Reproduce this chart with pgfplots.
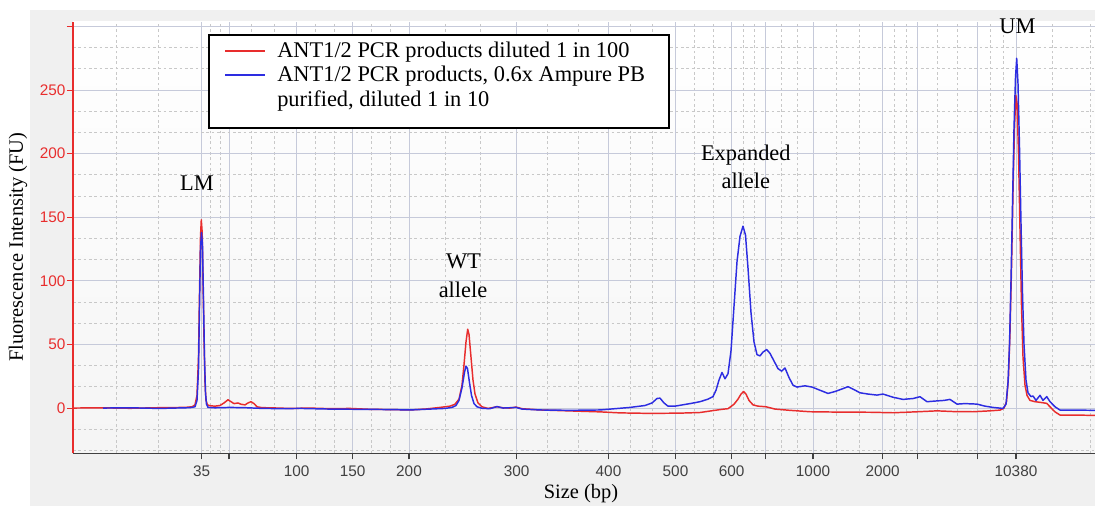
\documentclass[border=0pt]{standalone}
\usepackage{fontspec}
\setmainfont{Liberation Serif}
\newfontfamily\tickfont{Liberation Sans}
\usepackage{pgfplots}
\usepackage{pgfplotstable}
\pgfplotsset{compat=1.18}
\definecolor{traceRed}{RGB}{232,45,45}
\definecolor{traceBlue}{RGB}{45,45,225}
\definecolor{gridMajor}{RGB}{198,202,218}
\definecolor{gridMinor}{RGB}{200,200,200}
\definecolor{panel}{RGB}{240,240,240}
\definecolor{tickInk}{RGB}{64,64,64}

% x = position along the run (the bp scale is not linear), y = FU
\pgfplotstableread{
x y
73 0
100 0.2
130 -0.2
160 0.3
185 0.5
192 1
195 2.5
197 10
198.5 40
199.5 90
200.5 135
201.3 148
202.2 138
203 100
204 55
205 20
206 6
207.5 2.5
210 1.8
215 1.5
220 2
224 4
228 6.5
231 5
234 3.5
238 4
241 3
245 2.5
248 4
251 5
254 3.5
257 1
262 0.3
270 0.2
290 -0.3
310 0
330 -0.5
350 -0.3
370 -1
390 -1.2
410 -1.5
425 -0.8
440 0.5
450 1.5
455 3
459 7
462 18
464 34
466 52
467.7 62
469 58
471 40
473 22
475 11
478 4
482 1
488 -0.3
497 1
503 0.2
510 0
516 0.8
522 -0.5
540 -1.5
560 -2
580 -2.5
600 -3
620 -3.8
650 -4.2
680 -4
700 -3.5
713 -2
722 -1
728 -0.5
734 3
738 7
741 11
743.5 13
746 11
749 6
753 2.5
758 1.5
766 1
775 -0.8
790 -1.8
810 -2.9
840 -3.2
870 -3.3
893 -3.7
915 -3
937 -2.2
955 -2.8
973 -2.9
990 -2.2
1000 -1.6
1004 0
1006.5 5
1008.5 25
1010 60
1011.5 110
1013 170
1014.5 220
1015.8 246
1017 240
1018.5 200
1020 140
1021.5 80
1023 40
1025 18
1027 10
1030 6
1035 5
1040 4.5
1046.7 3.7
1050 1
1055 -3
1060 -5.5
1075 -5.5
1095 -5.8
}\redtrace

\pgfplotstableread{
x y
103 0
130 0.2
160 -0.3
190 0.3
195 1
197 6
198.5 30
199.5 80
200.5 125
201.5 138
202.5 128
203.5 85
204.5 40
205.5 12
206.5 3
208 0.5
215 0.2
230 0.5
245 0.3
260 -0.2
280 -0.5
300 -0.3
330 -0.8
360 -1
390 -1.2
410 -1.5
430 -0.8
445 -0.3
452 0.5
456 2
459 6
462 16
464.5 28
466 33
467.5 31
469.5 20
471.5 10
474 3.5
477 1
482 -0.2
490 -0.5
497 1.2
503 0
516 0.5
522 -0.8
540 -1.5
570 -1.8
600 -1.5
615 -0.5
630 0.5
645 2
652 4
657 7.5
660 7.8
664 4
668 1.5
675 1.5
690 3.5
700 5
708 7
713 9
716 14
719 22
722 28
725 23
728 27
731 45
734 80
737 115
740 135
743 143
745.5 136
748 110
751 75
754 52
757 42
760 41
763 44
766.7 46
770 43
774 37
778 31
781.7 29
785 31.5
789 24
793 18
797 16.5
805 17.5
812 16.5
820 14
828 11.5
835 13
842 15
848 16.8
854 14.5
860 12
868 11
877 10.2
883 11
893 8.5
903 6.8
913 7.5
920 8.9
927 5
935 5.5
944 6
950 6.8
957 3.1
965 3.5
977 3.1
985 1.5
993 0.5
1003 -0.3
1006 3
1008 20
1009.5 50
1011 100
1012.5 160
1014 220
1015.5 260
1016.7 275
1018 255
1019.5 205
1021 145
1022.5 90
1024 50
1026 22
1028 12
1031 9
1033 9.5
1036 6
1040 10
1043 6
1046.7 9
1050 5
1055 1
1060 -1.6
1075 -1.6
1095 -1.8
}\bluetrace

\begin{document}
\begin{tikzpicture}[x=0.75pt,y=0.75pt]
\useasboundingbox (0,0) rectangle (1095,508);
\fill[white] (0,0) rectangle (1095,508);
\fill[panel] (30,2) rectangle (1095,498);
\begin{axis}[
    at={(54.75pt,41pt)}, anchor=south west,
    scale only axis, width=766.5pt, height=323.5pt,
    xmin=73, xmax=1095, ymin=-35.6, ymax=303.5,
    axis x line*=bottom, axis y line*=left,
    axis background/.style={top color=white, bottom color=black!4},
    x axis line style={tickInk, line width=1pt},
    y axis line style={traceRed, line width=1pt},
    tick align=outside,
    major tick length=4.5pt, minor tick length=0pt,
    xtick style={tickInk, line width=0.8pt},
    ytick style={traceRed, line width=0.8pt},
    xtick={201.7,229,296.7,352.7,409,516.7,608.5,675.5,731.7,765.5,813,882.7,917.5,977.5,1016},
    xticklabels={35,,100,150,200,300,400,500,600,,1000,2000,,,10380},
    minor xtick={115.9,158.8,210.8,219.9,251.6,274.1,315.4,334.0,371.5,390.2,444.9,480.8,547.3,578.1,630.8,652.8,694.2,713.0,743.0,754.2,781.3,797.2,836.2,859.5,894.3,905.9,937.5,957.5,990.3,1003.2,1052,1090},
    ytick={0,50,100,150,200,250,300},
    yticklabels={0,50,100,150,200,250,{}},
    minor ytick={-33.3,-16.7,16.7,33.3,66.7,83.3,116.7,133.3,166.7,183.3,216.7,233.3,266.7,283.3},
    grid=both,
    major grid style={gridMajor, line width=0.75pt},
    minor grid style={gridMinor, dash pattern=on 2pt off 2pt, line width=0.6pt},
    xticklabel style={font=\tickfont\fontsize{11.5}{13}\selectfont, text=tickInk, yshift=-1.5pt},
    yticklabel style={font=\tickfont\fontsize{11.5}{13}\selectfont, text=traceRed, inner xsep=1pt},
  ]
  \addplot[traceRed, line width=1.1pt, line join=round] table[x=x, y=y] {\redtrace};
  \addplot[traceBlue, line width=1.1pt, line join=round] table[x=x, y=y] {\bluetrace};
\end{axis}
% axis titles
\node[rotate=90, font=\fontsize{15.3}{18}\selectfont] at (18,261) {Fluorescence Intensity (FU)};
\node[font=\fontsize{15.3}{18}\selectfont] at (581,14) {Size (bp)};
% peak names
\begin{scope}[every node/.style={font=\fontsize{16.8}{20}\selectfont, anchor=base}]
  \node at (197,318) {LM};
  \node at (463.5,240) {WT};
  \node at (463,211) {allele};
  \node at (745.8,347.3) {Expanded};
  \node at (745.8,319.7) {allele};
  \node at (1017.5,474.7) {UM};
\end{scope}
% legend
\draw[black, line width=1.5pt, fill=white] (209,473) rectangle (669,380);
\draw[traceRed, line width=1.3pt] (225,457) -- (265,457);
\draw[traceBlue, line width=1.3pt] (225,433) -- (265,433);
\begin{scope}[every node/.style={font=\fontsize{16.8}{20}\selectfont, anchor=base west, inner sep=0pt}]
  \node at (277,450) {ANT1/2 PCR products diluted 1 in 100};
  \node at (277,426) {ANT1/2 PCR products, 0.6x Ampure PB};
  \node at (277,401) {purified, diluted 1 in 10};
\end{scope}
\end{tikzpicture}
\end{document}
